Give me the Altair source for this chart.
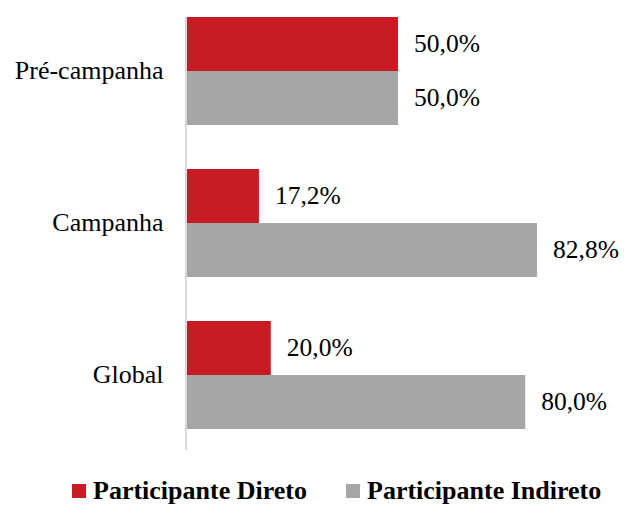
import altair as alt
import pandas as pd

categorias = ["Pré-campanha", "Campanha", "Global"]
series = ["Participante Direto", "Participante Indireto"]
direto = [50.0, 17.2, 20.0]
indireto = [50.0, 82.8, 80.0]
cores = ["#C81B24", "#A6A6A6"]

rows = []
for c, d, i in zip(categorias, direto, indireto):
    rows.append({"categoria": c, "serie": series[0], "valor": d})
    rows.append({"categoria": c, "serie": series[1], "valor": i})
df = pd.DataFrame(rows)

FONT = "Liberation Serif, DejaVu Serif"
PLOT_W = 424
PLOT_H = 412

base = alt.Chart(df).transform_calculate(
    rotulo="replace(format(datum.valor, '.1f'), '.', ',') + '%'"
).encode(
    y=alt.Y(
        "categoria:N",
        sort=categorias,
        scale=alt.Scale(paddingInner=0.289, paddingOuter=0),
        axis=alt.Axis(
            title=None, domain=False, ticks=False, grid=False,
            labelFont=FONT, labelFontSize=26, labelColor="black",
            labelPadding=23, labelLimit=400,
        ),
    ),
    yOffset=alt.YOffset("serie:N", sort=series),
)

bars = base.mark_bar().encode(
    x=alt.X("valor:Q", scale=alt.Scale(domain=[0, 100]), axis=None),
    color=alt.Color(
        "serie:N",
        sort=series,
        scale=alt.Scale(domain=series, range=cores),
        legend=alt.Legend(
            title=None, orient="none", legendX=-120, legendY=461,
            direction="horizontal", columns=2, columnPadding=33,
            symbolType="square", symbolSize=196, symbolStrokeWidth=0,
            labelFont=FONT, labelFontSize=26, labelFontWeight="bold",
            labelColor="black", labelOffset=1, labelLimit=500, padding=0,
        ),
    ),
)

text = base.mark_text(
    align="left", baseline="middle", dx=16, font=FONT, fontSize=25.5, color="black"
).encode(
    x=alt.X("valor:Q", scale=alt.Scale(domain=[0, 100]), axis=None),
    text="rotulo:N",
)

eixo = alt.Chart(df).mark_rule(color="#D9D9D9", strokeWidth=1).encode(
    x=alt.value(0), y=alt.value(0), y2=alt.value(433)
)

chart = (
    alt.layer(bars, text, eixo)
    .properties(
        width=PLOT_W,
        height=PLOT_H,
        autosize=alt.AutoSizeParams(type="none"),
        padding={"left": 178, "top": 9, "right": 10, "bottom": 78},
    )
    .configure_view(stroke=None)
)

chart.save("out.html", embed_options={"renderer": "svg", "actions": False})
